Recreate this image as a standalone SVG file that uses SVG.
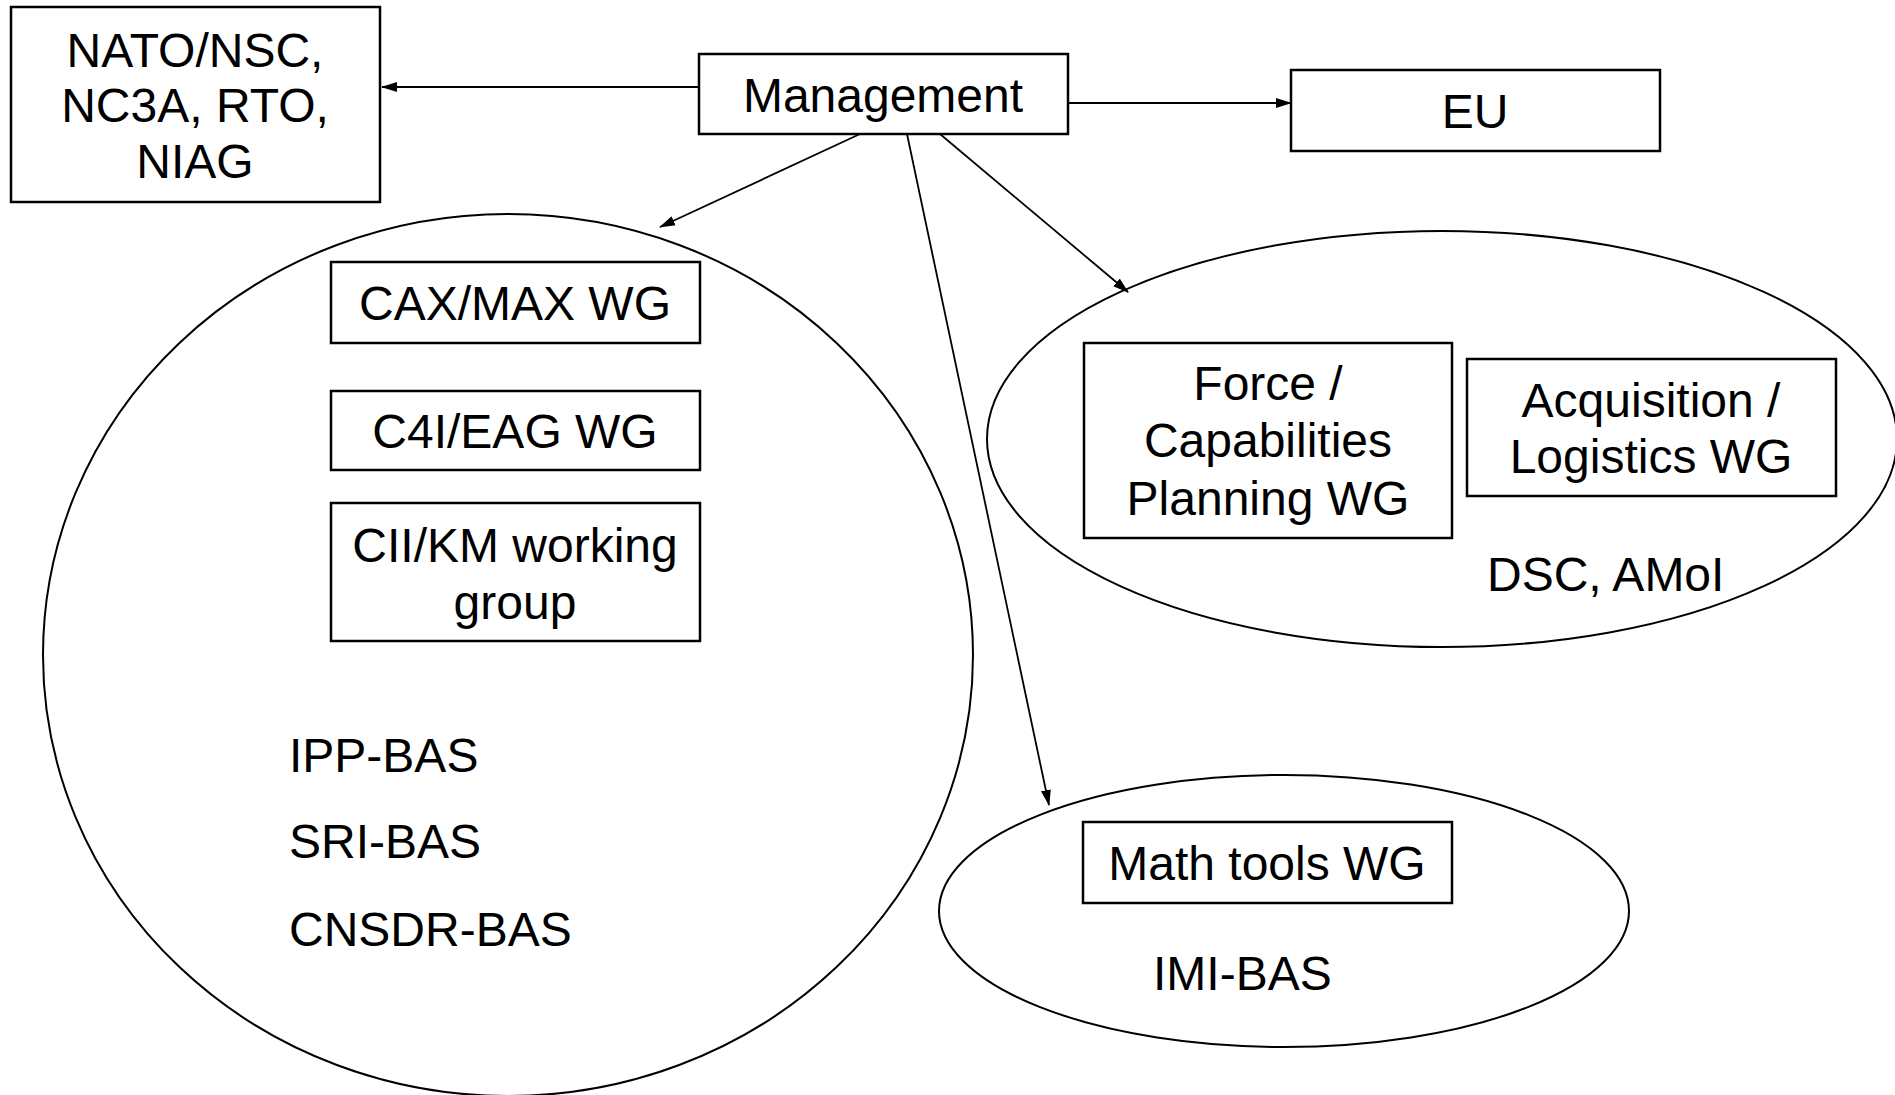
<svg xmlns="http://www.w3.org/2000/svg" width="1895" height="1095" viewBox="0 0 1895 1095">
<style>
.box{fill:#fff;stroke:#000;stroke-width:2.5}
.ell{fill:none;stroke:#000;stroke-width:2}
.conn{stroke:#000;stroke-width:1.8;fill:none}
text{font-family:"Liberation Sans",Arial,sans-serif;font-size:48px;fill:#000}
.c{text-anchor:middle}
</style>
<defs>
<marker id="ah" markerUnits="userSpaceOnUse" markerWidth="16" markerHeight="12" refX="15" refY="6" orient="auto">
<path d="M0,1 L16,6 L0,11 z" fill="#000"/>
</marker>
</defs>
<rect width="1895" height="1095" fill="#fff"/>
<g id="org-left">
<ellipse class="ell" cx="508" cy="655" rx="465" ry="441"/>
<text x="289" y="772">IPP-BAS</text>
<text x="289" y="858">SRI-BAS</text>
<text x="289" y="946">CNSDR-BAS</text>
</g>
<g id="org-dsc">
<ellipse class="ell" cx="1442" cy="439" rx="455" ry="208"/>
<text x="1487" y="591">DSC, AMoI</text>
</g>
<g id="org-imi">
<ellipse class="ell" cx="1284" cy="911" rx="345" ry="136"/>
<text x="1153" y="990">IMI-BAS</text>
</g>
<g id="nato">
<rect class="box" x="11" y="7" width="369" height="195"/>
<text class="c" x="195" y="67">NATO/NSC,</text>
<text class="c" x="195" y="122">NC3A, RTO,</text>
<text class="c" x="195" y="178">NIAG</text>
</g>
<g id="management">
<rect class="box" x="699" y="54" width="369" height="80"/>
<text class="c" x="883" y="112">Management</text>
</g>
<g id="eu">
<rect class="box" x="1291" y="70" width="369" height="81"/>
<text class="c" x="1475" y="128">EU</text>
</g>
<g id="cax">
<rect class="box" x="331" y="262" width="369" height="81"/>
<text class="c" x="515" y="320">CAX/MAX WG</text>
</g>
<g id="c4i">
<rect class="box" x="331" y="391" width="369" height="79"/>
<text class="c" x="515" y="448">C4I/EAG WG</text>
</g>
<g id="cii">
<rect class="box" x="331" y="503" width="369" height="138"/>
<text class="c" x="515" y="562">CII/KM working</text>
<text class="c" x="515" y="619">group</text>
</g>
<g id="force">
<rect class="box" x="1084" y="343" width="368" height="195"/>
<text class="c" x="1268" y="400">Force /</text>
<text class="c" x="1268" y="457">Capabilities</text>
<text class="c" x="1268" y="515">Planning WG</text>
</g>
<g id="acq">
<rect class="box" x="1467" y="359" width="369" height="137"/>
<text class="c" x="1651" y="417">Acquisition /</text>
<text class="c" x="1651" y="473">Logistics WG</text>
</g>
<g id="math">
<rect class="box" x="1083" y="822" width="369" height="81"/>
<text class="c" x="1267" y="880">Math tools WG</text>
</g>
<g id="connectors">
<line class="conn" x1="699" y1="87" x2="382" y2="87" marker-end="url(#ah)"/>
<line class="conn" x1="1068" y1="103" x2="1291" y2="103" marker-end="url(#ah)"/>
<line class="conn" x1="860" y1="134" x2="660" y2="227" marker-end="url(#ah)"/>
<line class="conn" x1="907" y1="134" x2="1049" y2="805" marker-end="url(#ah)"/>
<line class="conn" x1="940" y1="134" x2="1128" y2="292" marker-end="url(#ah)"/>
</g>
</svg>
